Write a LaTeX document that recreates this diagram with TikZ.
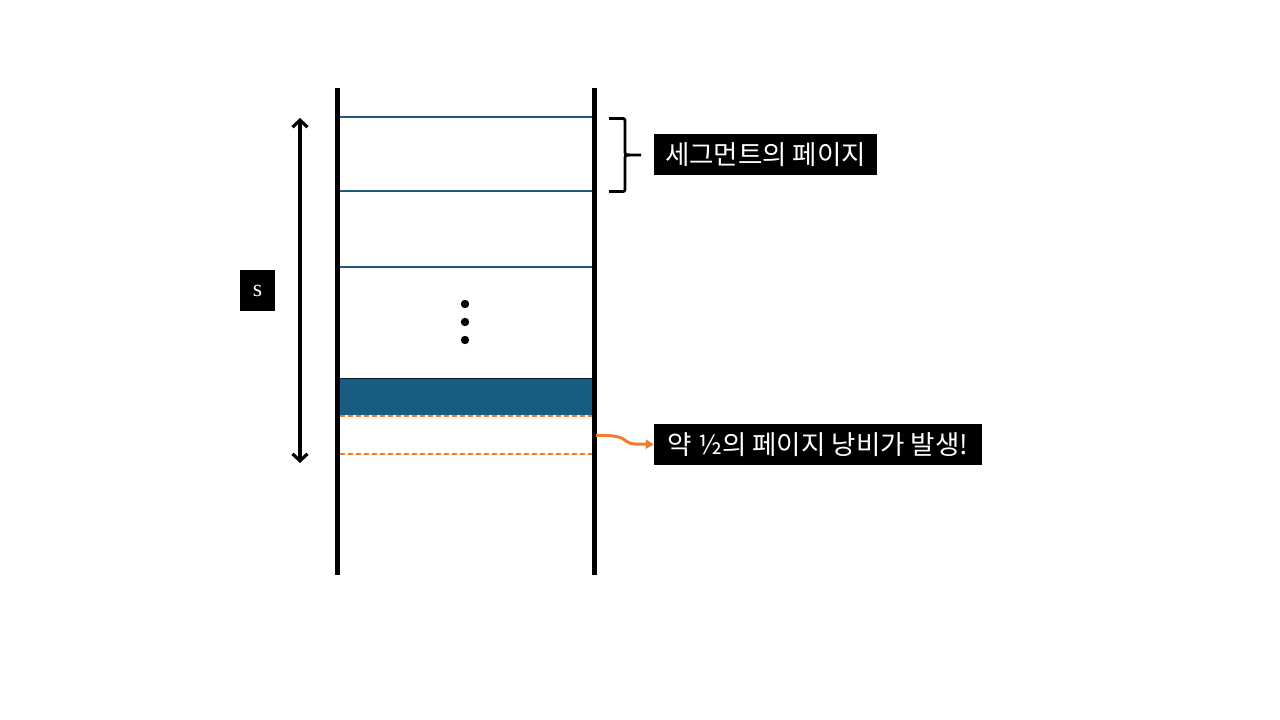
\documentclass[tikz,border=0pt]{standalone}
\usepackage{fontspec}
\newfontfamily\kr{Noto Sans CJK KR}
\setmainfont{Liberation Serif}
\usetikzlibrary{arrows.meta}
\definecolor{pageblue}{RGB}{23,94,130}
\definecolor{lineblue}{RGB}{31,90,122}
\definecolor{orng}{RGB}{237,125,49}
\tikzset{
  wall/.style={line width=5pt,black},
  pageline/.style={line width=1.3pt,lineblue},
  waste/.style={orng,line width=1.4pt,dash pattern=on 5pt off 3pt},
  labelbox/.style={fill=black,text=white,inner sep=0pt,font=\kr\fontsize{26.5}{30}\selectfont},
}
\begin{document}
\begin{tikzpicture}[x=1pt,y=-1pt]
\useasboundingbox (0,0) rectangle (1280,720);
% walls
\coordinate (lt) at (337,88); \coordinate (lb) at (337,575);
\coordinate (rt) at (594,88); \coordinate (rb) at (594,575);
% filled page
\fill[pageblue] (339.5,378) rectangle (591.5,415);
\draw[line width=1.3pt,black!70!pageblue] (339.5,378.5) -- (591.5,378.5);
% page lines
\foreach \y in {117,191,267} \draw[pageline] (339.5,\y) -- (591.5,\y);
\draw[waste] (339.5,416) -- (591.5,416);
\draw[waste] (339.5,454) -- (591.5,454);
\draw[wall] (lt) -- (lb);
\draw[wall] (rt) -- (rb);
% dots
\foreach \y in {304,322,340} \fill (465,\y) circle (4.2);
% size arrow
\coordinate (at) at (300,118); \coordinate (ab) at (300,463);
\draw[line width=3.2pt,{Straight Barb[length=7pt,width=15pt,line width=3.2pt]}-{Straight Barb[length=7pt,width=15pt,line width=3.2pt]}] (at) -- (ab);
\node[fill=black,text=white,minimum width=35pt,minimum height=41pt,inner sep=0pt,font=\fontsize{24}{26}\selectfont] (s) at (257.5,290.5) {s};
% brace
\coordinate (bt) at (609,118.5); \coordinate (bb) at (609,191.5); \coordinate (btip) at (641,155);
\draw[line width=2.8pt,line join=round] (bt) -- (621,118.5) .. controls (625,118.5) .. (625,123) -- (625,150) .. controls (625,155) .. (630,155) -- (btip);
\draw[line width=2.8pt,line join=round] (bb) -- (621,191.5) .. controls (625,191.5) .. (625,187) -- (625,160) .. controls (625,155) .. (630,155);
\node[labelbox,minimum width=223pt,minimum height=41pt] (seg) at (765.5,154.5) {세그먼트의 페이지};
\node[labelbox,minimum width=328pt,minimum height=41pt] (wst) at (818,444.5) {약 ½의 페이지 낭비가 발생!};
\coordinate (o1) at (596,435.5);
\draw[orng,line width=3pt,-{Triangle[length=8pt,width=9pt]}] (o1) .. controls (615,435) and (622,437) .. (626,441) .. controls (630,445) and (640,444) .. (wst.west);
\end{tikzpicture}
\end{document}
